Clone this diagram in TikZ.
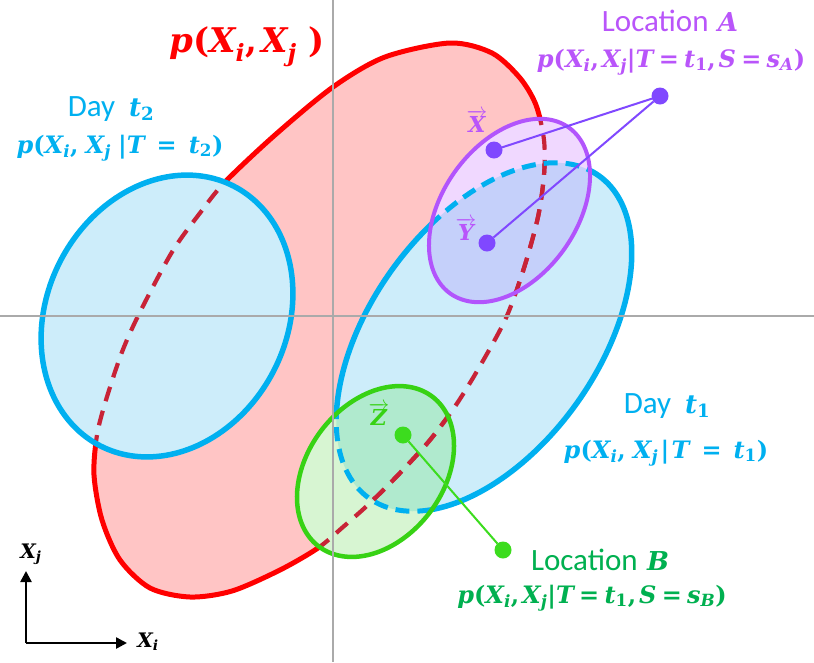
\documentclass[tikz,border=0pt]{standalone}
\usepackage{fontspec}
\setmainfont{Carlito}
\newfontfamily\mfont{DejaVu Serif}
\usetikzlibrary{arrows.meta}
\definecolor{redline}{RGB}{255,0,0}
\definecolor{pinkfill}{RGB}{255,197,197}
\definecolor{reddash}{RGB}{200,35,55}
\definecolor{blueline}{RGB}{0,176,240}
\definecolor{bluefill}{RGB}{205,237,250}
\definecolor{purpline}{RGB}{178,84,252}
\definecolor{lavfill}{RGB}{240,216,255}
\definecolor{lavblue}{RGB}{197,208,250}
\definecolor{greenline}{RGB}{55,210,20}
\definecolor{greenfill}{RGB}{215,245,210}
\definecolor{mintfill}{RGB}{176,234,206}
\definecolor{dotpurple}{RGB}{128,72,255}
\definecolor{dotgreen}{RGB}{60,220,30}
\definecolor{textpurple}{RGB}{185,85,250}
\definecolor{textgreen}{RGB}{0,176,80}
\definecolor{axisgray}{RGB}{170,170,170}
\newcommand\mth[1]{{\mfont\bfseries\itshape #1}}
\newcommand\up[1]{{\upshape #1}}
\newcommand\dn[1]{\textsubscript{#1}}
\newcommand\cm{\up{,}\hspace{0.12em}}
\newcommand\eq{\hspace{0.22em}\up{=}\hspace{0.22em}}
\newcommand\cmw{\up{,}\hspace{0.3em}}
\newcommand\eqw{\hspace{0.5em}\up{=}\hspace{0.5em}}
\newcommand\mfs[1]{\fontsize{#1}{#1}\selectfont}
% ellipses: centre, semi-axes, angle (y-up)
\def\ellL{plot[domain=0:360,samples=181,variable=\t] ({167+120*cos(-27.3)*cos(\t)-146*sin(-27.3)*sin(\t)},{316-120*sin(-27.3)*cos(\t)-146*cos(-27.3)*sin(\t)}) -- cycle}
\def\ellR{plot[domain=0:360,samples=181,variable=\t] ({484+198*cos(54.5)*cos(\t)-114*sin(54.5)*sin(\t)},{337-198*sin(54.5)*cos(\t)-114*cos(54.5)*sin(\t)}) -- cycle}
\def\ellP{plot[domain=0:360,samples=181,variable=\t] ({509.5+102*cos(54.5)*cos(\t)-67*sin(54.5)*sin(\t)},{210.5-102*sin(54.5)*cos(\t)-67*cos(54.5)*sin(\t)}) -- cycle}
\def\ellG{plot[domain=0:360,samples=181,variable=\t] ({375.5+94*cos(52.8)*cos(\t)-68*sin(52.8)*sin(\t)},{471.5-94*sin(52.8)*cos(\t)-68*cos(52.8)*sin(\t)}) -- cycle}
\def\redpath{plot[smooth cycle] coordinates {(450,43) (492,53) (520,78) (536,105) (544,140) (544,175) (538,217) (524,268) (506,318) (480,366) (456,405) (430,440) (400,473) (370,503) (343,527) (318,548) (280,570) (232,591) (190,597) (150,588) (120,560) (102,520) (94,475) (97,435) (106,400) (122,352) (140,312) (172,252) (200,213) (225,182) (275,135) (333,87) (385,57)}}
\tikzset{
  every node/.style={inner sep=0pt, outer sep=0pt},
  redsolid/.style={draw=redline, line width=5pt, line join=round},
  reddashed/.style={draw=reddash, line width=4.2pt, dash pattern=on 15pt off 10pt},
  bluesolid/.style={draw=blueline, line width=5.5pt, line join=round},
  bluedashed/.style={draw=blueline, line width=5pt, dash pattern=on 14pt off 8pt},
  purpsolid/.style={draw=purpline, line width=4pt, line join=round},
  greensolid/.style={draw=greenline, line width=4.5pt, line join=round},
  axisline/.style={draw=axisgray, line width=1.8pt},
  dotP/.style={circle, fill=dotpurple, minimum size=17pt},
  dotG/.style={circle, fill=dotgreen, minimum size=17pt},
  linkP/.style={draw=dotpurple, line width=2pt},
  linkG/.style={draw=dotgreen, line width=2pt},
  mathlbl/.style={anchor=base, font=\mfs{24}},
  wordlbl/.style={anchor=base, font=\mfs{31}},
  veclbl/.style={font=\mfs{22}},
  smallax/.style={draw=black, line width=2.5pt, -{Triangle[length=11pt,width=11pt]}},
}
\begin{document}
\begin{tikzpicture}[x=1pt,y=-1pt]
\useasboundingbox (0,0) rectangle (814,662);
\fill[white] (0,0) rectangle (814,662);
% red joint distribution
\fill[pinkfill] \redpath;
\draw[redsolid] \redpath;
% blue days
\fill[bluefill] \ellL;
\fill[bluefill] \ellR;
% purple location A
\fill[lavfill] \ellP;
\begin{scope}\clip \ellR; \fill[lavblue] \ellP; \end{scope}
% green location B
\fill[greenfill] \ellG;
\begin{scope}\clip \ellR; \fill[mintfill] \ellG; \end{scope}
% hidden red outline
\begin{scope}\clip \ellL; \draw[reddashed] \redpath; \end{scope}
\begin{scope}\clip \ellR; \draw[reddashed] \redpath; \end{scope}
\begin{scope}\clip \ellP; \draw[reddashed] \redpath; \end{scope}
\begin{scope}\clip \ellG; \draw[reddashed] \redpath; \end{scope}
% hidden blue outline
\begin{scope}\clip \ellP; \draw[bluedashed] \ellR; \end{scope}
\begin{scope}\clip \ellG; \draw[bluedashed] \ellR; \end{scope}
% outlines
\draw[bluesolid] \ellL;
\begin{scope}[even odd rule]
\clip (-20,-20) rectangle (840,690) \ellP \ellG;
\draw[bluesolid] \ellR;
\end{scope}
\draw[purpsolid] \ellP;
\draw[greensolid] \ellG;
% axes
\coordinate (vtop) at (333,0);
\coordinate (vbot) at (333,662);
\coordinate (hl) at (0,316);
\coordinate (hr) at (814,316);
\draw[axisline] (vtop) -- (vbot);
\draw[axisline] (hl) -- (hr);
% points and connectors
\node[dotP] (dX) at (494,150) {};
\node[dotP] (dY) at (487,243) {};
\node[dotP] (dA) at (660,96) {};
\node[dotG] (dZ) at (403,435) {};
\node[dotG] (dB) at (503,550) {};
\draw[linkP] (dX) -- (dA);
\draw[linkP] (dY) -- (dA);
\draw[linkG] (dZ) -- (dB);
\node[veclbl, text=textpurple] (vX) at (477,121) {$\overrightarrow{\hbox{\mth{X}}}$};
\node[veclbl, text=textpurple] (vY) at (466,229) {$\overrightarrow{\hbox{\mth{Y}}}$};
\node[veclbl, text=greenline] (vZ) at (379,414) {$\overrightarrow{\hbox{\mth{Z}}}$};
% labels
\node[anchor=base, font=\mfs{34}, text=redline] (tJ) at (247,52) {\mth{p\up{(}X\dn{i}\cm X\dn{j}\up{ )}}};
\node[wordlbl, text=blueline] (d2a) at (111,116) {Day\hspace{0.45em}{\mfs{26}\mth{t\dn{\up{2}}}}};
\node[mathlbl, text=blueline] (d2b) at (120,153) {\mth{p\up{(}X\dn{i}\cmw X\dn{j}\hspace{0.3em}\up{|}T\eqw t\dn{\up{2}}\up{)}}};
\node[wordlbl, text=textpurple] (lAa) at (670,31) {Location\hspace{0.3em}{\mfs{26}\mth{A}}};
\node[mathlbl, text=textpurple] (lAb) at (671,67) {\mth{p\up{(}X\dn{i}\cm X\dn{j}\up{|}T\eq t\dn{\up{1}}\cm S\eq s\dn{A}\up{)}}};
\node[wordlbl, text=blueline] (d1a) at (667,413) {Day\hspace{0.45em}{\mfs{26}\mth{t\dn{\up{1}}}}};
\node[mathlbl, text=blueline] (d1b) at (666,458) {\mth{p\up{(}X\dn{i}\cmw X\dn{j}\hspace{0.1em}\up{|}\hspace{0.1em}T\eqw t\dn{\up{1}}\up{)}}};
\node[wordlbl, text=textgreen] (lBa) at (600,570) {Location\hspace{0.3em}{\mfs{26}\mth{B}}};
\node[mathlbl, text=textgreen] (lBb) at (592,603) {\mth{p\up{(}X\dn{i}\cm X\dn{j}\up{|}T\eq t\dn{\up{1}}\cm S\eq s\dn{B}\up{)}}};
% small axes
\coordinate (o) at (26,643);
\coordinate (yj) at (26,571);
\coordinate (xi) at (127,643);
\draw[smallax] (o) -- (yj);
\draw[smallax] (o) -- (xi);
\node[anchor=base, font=\mfs{20}] (lXj) at (31,558) {\mth{X\dn{j}}};
\node[anchor=base, font=\mfs{20}] (lXi) at (148,647) {\mth{X\dn{i}}};
\end{tikzpicture}
\end{document}
